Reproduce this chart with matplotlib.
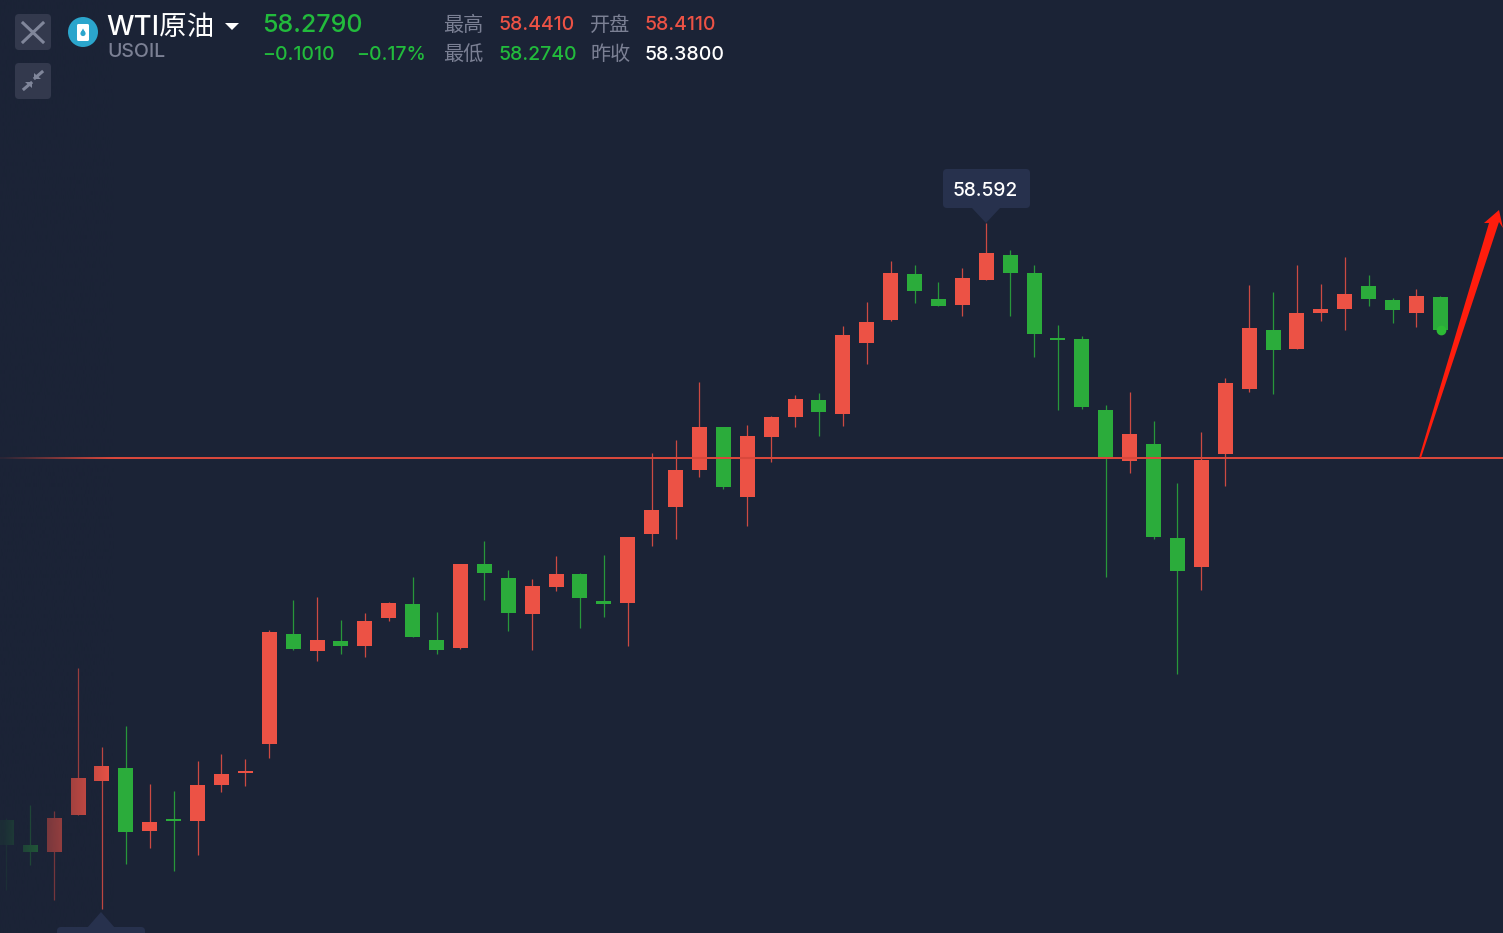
#!/usr/bin/env python3

import numpy as np
import matplotlib
matplotlib.use("Agg")
import matplotlib.pyplot as plt
from matplotlib.patches import FancyBboxPatch, Polygon, Circle, Rectangle

plt.rcParams['font.family'] = ['Inter', 'Noto Sans CJK SC', 'DejaVu Sans']

BG = '#1b2336'
RED = '#ec5245'
GREEN = '#2bac3b'
TXT_GREEN = '#22bb3c'
GREY = '#7b8094'

opens = [56.801, 56.726, 56.705, 56.816, 56.918, 56.957, 56.768, 56.804, 56.798, 56.906,
         56.942, 57.029, 57.359, 57.308, 57.338, 57.323, 57.407, 57.449, 57.341, 57.317,
         57.569, 57.527, 57.419, 57.500, 57.539, 57.458, 57.452, 57.659, 57.740, 57.851,
         57.980, 57.770, 57.950, 58.010, 58.061, 58.019, 58.232, 58.301, 58.439, 58.364,
         58.346, 58.421, 58.496, 58.442, 58.247, 58.244, 58.031, 57.878, 57.929, 57.647,
         57.560, 57.899, 58.094, 58.271, 58.214, 58.322, 58.334, 58.403, 58.361, 58.322,
         58.370]
closes = [56.726, 56.705, 56.807, 56.927, 56.963, 56.765, 56.795, 56.798, 56.906, 56.939,
          56.948, 57.365, 57.314, 57.341, 57.323, 57.398, 57.452, 57.350, 57.311, 57.569,
          57.542, 57.422, 57.503, 57.539, 57.467, 57.449, 57.650, 57.731, 57.851, 57.980,
          57.800, 57.953, 58.010, 58.064, 58.025, 58.256, 58.295, 58.442, 58.388, 58.343,
          58.427, 58.502, 58.442, 58.259, 58.241, 58.040, 57.887, 57.959, 57.650, 57.548,
          57.881, 58.112, 58.277, 58.211, 58.322, 58.334, 58.379, 58.364, 58.331, 58.373,
          58.271]
highs = [56.807, 56.846, 56.828, 57.257, 57.020, 57.083, 56.909, 56.888, 56.978, 56.999,
         56.984, 57.371, 57.461, 57.470, 57.401, 57.422, 57.455, 57.530, 57.425, 57.569,
         57.638, 57.551, 57.524, 57.593, 57.542, 57.596, 57.650, 57.902, 57.941, 58.115,
         57.980, 57.986, 58.013, 58.076, 58.082, 58.283, 58.355, 58.478, 58.466, 58.415,
         58.457, 58.592, 58.511, 58.466, 58.286, 58.253, 58.046, 58.085, 57.998, 57.812,
         57.965, 58.127, 58.406, 58.385, 58.466, 58.409, 58.490, 58.436, 58.367, 58.394,
         58.373]
lows = [56.591, 56.666, 56.561, 56.816, 56.534, 56.669, 56.717, 56.648, 56.696, 56.885,
        56.903, 56.987, 57.311, 57.278, 57.299, 57.290, 57.398, 57.350, 57.299, 57.314,
        57.461, 57.368, 57.311, 57.488, 57.377, 57.410, 57.323, 57.623, 57.644, 57.830,
        57.794, 57.683, 57.875, 57.980, 57.953, 57.983, 58.169, 58.298, 58.352, 58.343,
        58.313, 58.421, 58.313, 58.190, 58.031, 58.034, 57.530, 57.842, 57.644, 57.239,
        57.491, 57.803, 58.085, 58.079, 58.214, 58.298, 58.271, 58.343, 58.292, 58.280,
        58.259]
level = 57.887
last_price = 58.271
peak_label = '58.592'

W, H = 1503, 933
fig = plt.figure(figsize=(W / 100, H / 100), dpi=100, facecolor=BG)

# price panel, one candle every 23.9 px
ax = fig.add_axes([0, 0, 1, 1], facecolor=BG)
xlim = (-6.35 / 23.9, (W - 6.35) / 23.9)
ylim = (59.261 - 0.003 * H, 59.261)
ax.set_xlim(xlim)
ax.set_ylim(ylim)
ax.axis('off')

for i in range(len(opens)):
    o, c = opens[i], closes[i]
    col = RED if c >= o else GREEN
    ax.vlines(i, lows[i], highs[i], color=col, lw=0.9, alpha=0.85, zorder=2)
    ax.add_patch(Rectangle((i - 0.314, min(o, c)), 0.628, abs(c - o),
                           facecolor=col, edgecolor='none', zorder=3))

ax.axhline(level, color='#d9483c', lw=1.45, zorder=4)
ax.plot([len(opens) - 1 + 0.03], [last_price], 'o', ms=6, color='#2dbb35', zorder=4)

# left edge fade
fade = np.zeros((1, 256, 4))
fade[..., :3] = matplotlib.colors.to_rgb(BG)
fade[..., 3] = np.clip(1 - (np.linspace(0, W, 256) + 8) / 118, 0, 1)
ax.imshow(fade, extent=[*xlim, *ylim], aspect='auto', zorder=5, interpolation='bilinear')
ax.set_xlim(xlim)
ax.set_ylim(ylim)

# overlay in pixels for the header and callouts
ui = fig.add_axes([0, 0, 1, 1], facecolor='none')
ui.set_xlim(0, W)
ui.set_ylim(H, 0)
ui.axis('off')


def box(x0, y0, x1, y1, col, r=4):
    ui.add_patch(FancyBboxPatch((x0 + r, y0 + r), x1 - x0 - 2 * r, y1 - y0 - 2 * r,
                                boxstyle=f'round,pad={r},rounding_size={r}',
                                fc=col, ec='none', zorder=6))


def txt(x, y, s, size, col, ha='left', weight='medium'):
    ui.text(x, y, s, fontsize=size, color=col, ha=ha, va='center', zorder=8, fontweight=weight)


# buttons
box(15, 14, 51, 50, '#33394d')
box(15, 63, 51, 99, '#33394d')
ui.plot([23, 43], [23, 42], color='#80869a', lw=2.2, zorder=7)
ui.plot([43, 23], [23, 42], color='#80869a', lw=2.2, zorder=7)
ui.plot([24, 31], [89, 83], color='#80869a', lw=2.2, zorder=7)
ui.plot([35, 42], [78, 72], color='#80869a', lw=2.2, zorder=7)
ui.add_patch(Polygon([[32, 82], [25, 82], [32, 88]], fc='#80869a', zorder=7))
ui.add_patch(Polygon([[34, 79], [41, 79], [34, 73]], fc='#80869a', zorder=7))

# symbol icon
ui.add_patch(Circle((83, 32), 15, fc='#2ba5cc', zorder=7))
box(77, 24, 89, 41, 'white', r=1.5)
ui.patches[-1].set_zorder(7)
ui.add_patch(Circle((83, 33.5), 2.6, fc='#2ba5cc', zorder=8))
ui.add_patch(Polygon([[81, 32], [85, 32], [83, 28.5]], fc='#2ba5cc', zorder=8))

# header text
txt(106, 28, 'WTI原油', 19.8, 'white')
txt(107, 52, 'USOIL', 14, GREY)
ui.add_patch(Polygon([[225, 23], [239, 23], [232, 30]], fc='white', zorder=7))
txt(262, 26, '58.2790', 18, TXT_GREEN)
txt(262, 55, '−0.1010', 14, TXT_GREEN)
txt(356, 55, '−0.17%', 14, TXT_GREEN)
txt(443, 25, '最高', 14.5, GREY)
txt(443, 55, '最低', 14.5, GREY)
txt(590, 25, '开盘', 14.5, GREY)
txt(590, 55, '昨收', 14.5, GREY)
txt(498, 25, '58.4410', 14, RED)
txt(498, 55, '58.2740', 14, TXT_GREEN)
txt(645, 25, '58.4110', 14, RED)
txt(645, 55, '58.3800', 14, 'white')

# high/low callouts
box(943, 169, 1030, 208, '#27314d')
ui.add_patch(Polygon([[972, 208], [1000, 208], [986, 223]], fc='#27314d', zorder=6))
txt(985.5, 190.5, peak_label, 13.8, 'white', ha='center')
box(57, 927, 145, 950, '#27314d')
ui.add_patch(Polygon([[87, 928], [115, 928], [101, 912]], fc='#27314d', zorder=6))

# hand drawn arrow
ui.add_patch(Polygon([[1419, 458], [1489, 223], [1484, 223], [1499, 210], [1503, 228],
                      [1499, 222], [1421, 458]], fc='#ff1d0d', ec='none', zorder=7))

fig.savefig('out.png', dpi=100, facecolor=BG)
